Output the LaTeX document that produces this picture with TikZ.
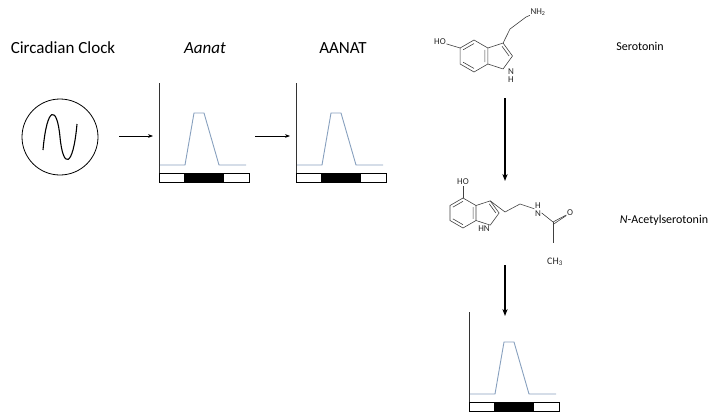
\documentclass[tikz,border=0pt]{standalone}
\usepackage{fontspec}
\setmainfont{Carlito}
\usetikzlibrary{arrows.meta,calc}
\definecolor{tracegrey}{RGB}{135,160,190}
\tikzset{
    trace/.style={draw=tracegrey, line width=0.9pt},
    bond/.style={draw=black!75, line width=0.6pt},
    atom/.style={font=\fontsize{9}{10}\selectfont, inner sep=0.5pt, text=black!85},
    label/.style={font=\fontsize{17}{20}\selectfont},
    step arrow/.style={-{Stealth[length=7pt]}, line width=1.4pt},
    small arrow/.style={-{Stealth[length=5pt]}, line width=0.7pt}
}
% expression plot: axis, trace and light/dark bar
\newcommand{\levelplot}[2]{%
\begin{scope}[shift={(#1)}]
\draw [black!80, line width=0.6pt] (0,-90) coordinate (#2-top) -- (0,0);
\draw [trace] (1,-8) -- (26,-8) -- (35,-60) -- (45,-60) -- (60,-8) -- (87,-8);
\draw [line width=0.8pt] (0,0) rectangle (90,9);
\fill (25,0) rectangle (65,9);
\coordinate (#2-left) at (-6,-37);
\coordinate (#2-right) at (96,-37);
\end{scope}}
% indole ring with named atoms
\newcommand{\indole}[3]{%
\begin{scope}[shift={(#1)}, x=#2pt, y=#2pt]
\foreach \k in {0,...,5} \coordinate (#3-b\k) at (90-60*\k:1);
\coordinate (#3-c3) at (1.817,0.809);
\coordinate (#3-c2) at (2.405,0);
\coordinate (#3-n1) at (1.817,-0.809);
\coordinate (#3-ctr) at (1.554,0);
\draw [bond] (#3-b0) -- (#3-b1) -- (#3-b2) -- (#3-b3) -- (#3-b4) -- (#3-b5) -- cycle;
\draw [bond] (#3-b1) -- (#3-c3) -- (#3-c2) -- (#3-n1) -- (#3-b2);
\draw [bond] (30:0.78) -- (-30:0.78) (-90:0.78) -- (-150:0.78) (150:0.78) -- (90:0.78);
\draw [bond] ($(#3-c3)!0.25!(#3-ctr)$) -- ($(#3-c2)!0.25!(#3-ctr)$);
\end{scope}}

\begin{document}
\begin{tikzpicture}[x=1pt, y=-1pt]
\useasboundingbox (0,0) rectangle (714,418);

% circadian clock
\node [label] (clocktext) at (63,48) {Circadian Clock};
\node [circle, draw, line width=0.8pt, minimum size=76pt] (clock) at (60,137) {};
\draw [line width=1.1pt] (43,150) .. controls (47,105) and (57,105) .. (60,137)
    .. controls (63,169) and (73,169) .. (77,124);

% Aanat mRNA and AANAT protein
\node [label] (genetext) at (205,48) {\itshape Aanat};
\node [label] (proteintext) at (343,48) {AANAT};
\levelplot{159,173}{gene}
\levelplot{296,173}{protein}
\coordinate (clock-right) at (119,136);
\draw [small arrow] (clock-right) -- (gene-left);
\draw [small arrow, line width=1pt] (gene-right) -- (protein-left);

% serotonin
\indole{474,56}{16}{sero}
\node [atom] (sero-oh) at (440,42) {HO};
\node [atom, align=center] (sero-nh) at (511,76) {N\\[-2pt]H};
\node [atom] (sero-nh2) at (538,12) {NH\textsubscript{2}};
\coordinate (sero-ch) at (510,29);
\draw [bond] (sero-b5) -- (sero-oh);
\draw [bond] (sero-c3) -- (sero-ch) -- (526,17) -- (sero-nh2);
\node [font=\fontsize{12}{14}\selectfont] (serotext) at (640,46) {Serotonin};

% N-acetylserotonin
\indole{463,213}{15}{acet}
\node [atom] (acet-oh) at (463,182) {HO};
\node [atom] (acet-hn) at (484,229) {HN};
\node [atom, align=center] (acet-nh) at (538,210) {H\\[-2pt]N};
\node [atom] (acet-o) at (570,213) {O};
\node [atom, font=\fontsize{10}{12}\selectfont] (acet-ch3) at (555,262) {CH\textsubscript{3}};
\coordinate (acet-co) at (553,222);
\draw [bond] (acet-b0) -- (acet-oh);
\draw [bond] (acet-c3) -- (505,212) -- (520,204) -- (acet-nh) -- (acet-co) -- (acet-o);
\draw [bond] ([yshift=-2.5pt]acet-co) -- ([yshift=-2.5pt]acet-o.west);
\draw [bond] (acet-co) -- (553,243);
\node [font=\fontsize{12}{14}\selectfont] (acettext) at (664,220) {\itshape N\upshape-Acetylserotonin};

% melatonin output
\levelplot{469,402}{output}
\coordinate (sero-below) at (505,98);
\coordinate (acet-above) at (505,181);
\coordinate (acet-below) at (505,265);
\coordinate (output-above) at (505,316);
\draw [step arrow] (sero-below) -- (acet-above);
\draw [step arrow] (acet-below) -- (output-above);

\end{tikzpicture}
\end{document}
